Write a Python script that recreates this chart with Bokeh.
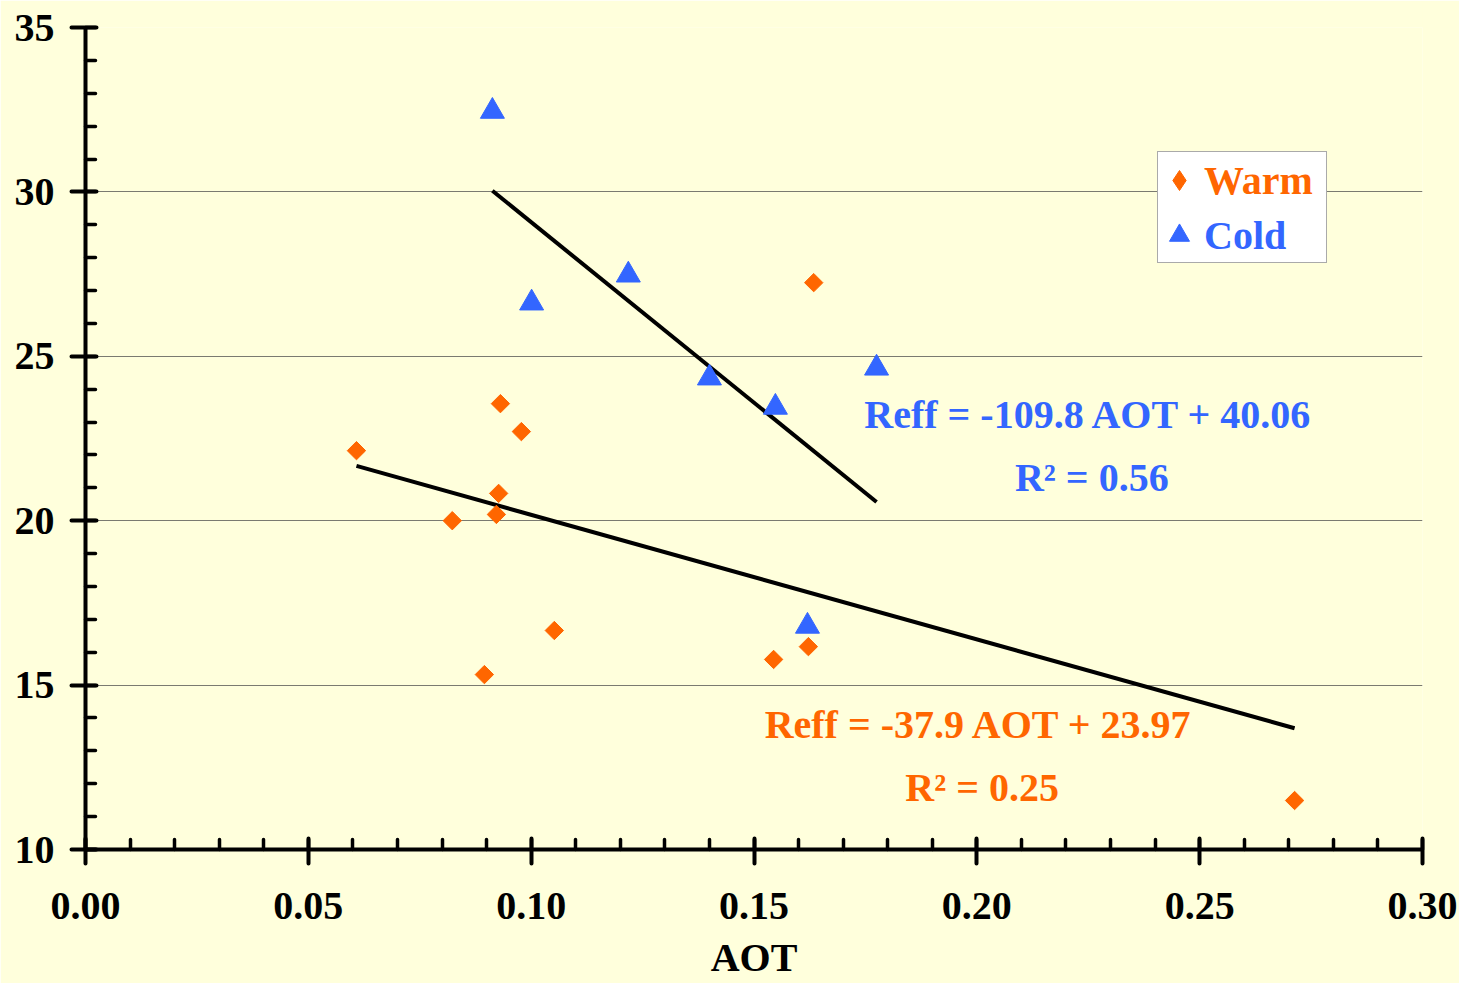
import math
from bokeh.plotting import figure
from bokeh.models import FixedTicker, NumeralTickFormatter, Legend, LegendItem
from bokeh.core.properties import value
from bokeh.embed import file_html
from bokeh.resources import INLINE

# ---- data ----
warm_aot = [0.0608, 0.0823, 0.0895, 0.0922, 0.0927, 0.0931, 0.0978, 0.1052, 0.1544, 0.1622, 0.1634, 0.2713]
warm_reff = [22.13, 20.00, 15.32, 20.19, 20.83, 23.56, 22.71, 16.66, 15.78, 16.17, 27.24, 11.49]
cold_aot = [0.0913, 0.1001, 0.1218, 0.1400, 0.1548, 0.1775, 0.1620]
cold_reff = [32.45, 26.62, 27.47, 24.34, 23.45, 24.64, 16.79]
warm_fit = (-37.9, 23.97)
cold_fit = (-109.8, 40.06)
warm_eq = ["Reff = -37.9 AOT + 23.97", "R\u00b2 = 0.25"]
cold_eq = ["Reff = -109.8 AOT + 40.06", "R\u00b2 = 0.56"]
x_ticks = [0.00, 0.05, 0.10, 0.15, 0.20, 0.25, 0.30]
y_ticks = [10, 15, 20, 25, 30, 35]

ORANGE = "#FF6600"
BLUE = "#3366FF"
BG = "#FFFFDC"
FONT = "Liberation Serif"
FS = "40px"

p = figure(width=1459, height=983, x_range=(0, 0.3), y_range=(10, 35),
           output_backend="svg", toolbar_location=None,
           min_border_left=85, min_border_right=37, min_border_top=27, min_border_bottom=134)
p.background_fill_color = BG
p.border_fill_color = BG
p.outline_line_color = None

# grid
p.xgrid.grid_line_color = None
p.ygrid.grid_line_color = "#7a7a70"
p.ygrid.grid_line_width = 1.2
p.ygrid.ticker = FixedTicker(ticks=y_ticks)

# axes
for ax in (p.xaxis[0], p.yaxis[0]):
    ax.axis_line_width = 4
    ax.axis_line_color = "black"
    ax.major_tick_line_width = 4
    ax.minor_tick_line_width = 3.5
    ax.major_tick_line_cap = "round"
    ax.minor_tick_line_cap = "round"
    ax.major_tick_line_color = "black"
    ax.minor_tick_line_color = "black"
    ax.major_tick_out = 14
    ax.major_tick_in = 11
    ax.minor_tick_in = 10
    ax.minor_tick_out = 0
    ax.major_label_text_font = FONT
    ax.major_label_text_font_style = "bold"
    ax.major_label_text_font_size = FS
    ax.major_label_text_color = "black"

p.xaxis.ticker = FixedTicker(ticks=x_ticks, minor_ticks=[i / 100 for i in range(0, 31)])
p.yaxis.ticker = FixedTicker(ticks=y_ticks, minor_ticks=list(range(10, 36)))
p.xaxis.formatter = NumeralTickFormatter(format="0.00")
p.yaxis.formatter = NumeralTickFormatter(format="0")
p.yaxis.major_label_standoff = 17
p.xaxis.major_label_standoff = 29
p.xaxis.axis_label = "AOT"
p.xaxis.axis_label_text_font = FONT
p.xaxis.axis_label_text_font_style = "bold"
p.xaxis.axis_label_text_font_size = FS
p.xaxis.axis_label_text_color = "black"
p.xaxis.axis_label_standoff = 13

# trend lines
def fit_line(xs, fit):
    x0, x1 = min(xs), max(xs)
    return [x0, x1], [fit[0] * x0 + fit[1], fit[0] * x1 + fit[1]]

wx, wy = fit_line(warm_aot, warm_fit)
cx, cy = fit_line(cold_aot, cold_fit)
p.line(wx, wy, line_color="black", line_width=4)
p.line(cx, cy, line_color="black", line_width=4)

# points
rw = p.scatter(warm_aot, warm_reff, marker="square", angle=math.pi / 4, size=13,
               fill_color=ORANGE, line_color=ORANGE)
rc = p.scatter(cold_aot, cold_reff, marker="triangle", size=24,
               fill_color=BLUE, line_color=BLUE)
# legend proxy for the diamond (legend glyphs ignore the angle); NaN -> nothing drawn in the plot
rw_leg = p.scatter([float("nan")], [float("nan")], marker="diamond", size=13,
                   fill_color=ORANGE, line_color=ORANGE)

# equations
p.text(x=[0.2251, 0.2258], y=[23.23, 21.32], text=cold_eq, text_color=BLUE,
       text_font=value(FONT), text_font_style="bold", text_font_size=FS,
       text_align="center", text_baseline="alphabetic")
p.text(x=[0.2005, 0.2012], y=[13.80, 11.88], text=warm_eq, text_color=ORANGE,
       text_font=value(FONT), text_font_style="bold", text_font_size=FS,
       text_align="center", text_baseline="alphabetic")

def make_legend(label, rend, color, loc):
    lg = Legend(items=[LegendItem(label=label, renderers=[rend])], location=loc)
    lg.label_text_font = FONT
    lg.label_text_font_style = "bold"
    lg.label_text_font_size = FS
    lg.label_text_color = color
    lg.background_fill_alpha = 0
    lg.border_line_color = None
    lg.padding = 0
    lg.spacing = 0
    lg.glyph_width = 50
    lg.glyph_height = 50
    lg.label_height = 50
    lg.label_standoff = -13
    lg.label_width = 128
    lg.margin = 0
    return lg

# framed white box, then one row per series (separate legends so each label keeps its colour)
frame_box = Legend(items=[LegendItem(label=" ", renderers=[rw_leg])], location=(1072, 586))
frame_box.background_fill_color = "white"
frame_box.background_fill_alpha = 1
frame_box.border_line_color = "#555555"
frame_box.border_line_width = 1.5
frame_box.padding = 0
frame_box.spacing = 0
frame_box.glyph_width = 0
frame_box.glyph_height = 110
frame_box.label_height = 110
frame_box.label_standoff = 0
frame_box.label_width = 168
frame_box.label_text_font_size = "1px"
frame_box.margin = 0
p.add_layout(frame_box, "center")

p.add_layout(make_legend("Warm", rw_leg, ORANGE, (1069, 644)), "center")
p.add_layout(make_legend("Cold", rc, BLUE, (1069, 589)), "center")

open("out.html", "w").write(file_html(p, INLINE))
